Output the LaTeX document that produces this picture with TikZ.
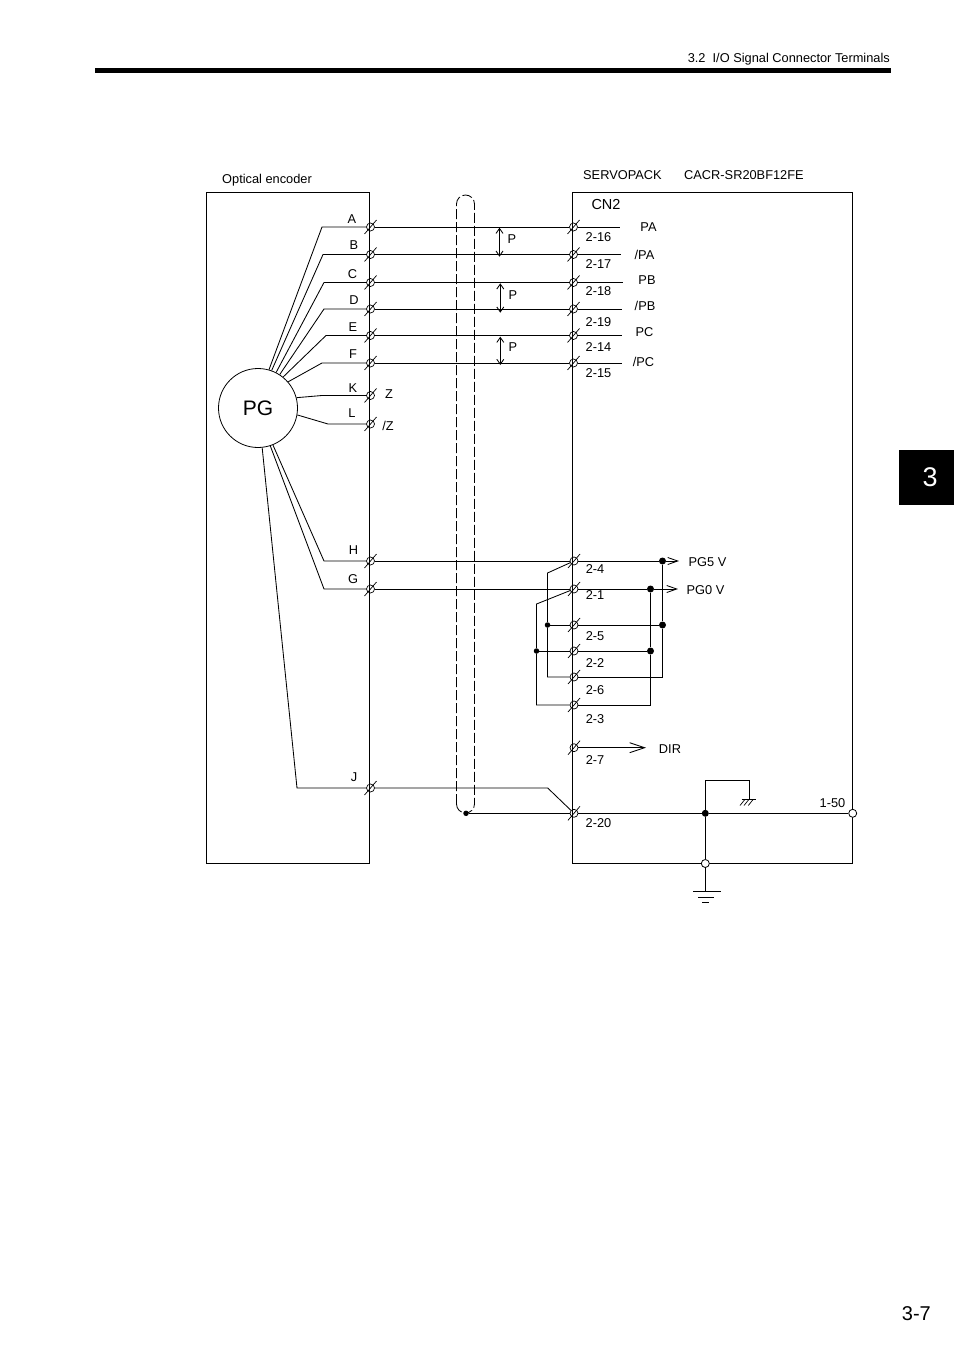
\documentclass[tikz,border=0pt]{standalone}
\usepackage{fontspec}
\setmainfont{Liberation Sans}
\usetikzlibrary{arrows.meta}
\tikzset{
    wire/.style={line width=0.85pt},
    term/.style={circle,draw,line width=0.7pt,inner sep=0pt,minimum size=8pt},
    dot/.style={circle,fill,inner sep=0pt,minimum size=7pt},
    smalldot/.style={circle,fill,inner sep=0pt,minimum size=5.5pt},
    hollow/.style={circle,draw,fill=white,line width=0.8pt,inner sep=0pt,minimum size=8pt},
    lab/.style={font=\fontsize{12.8}{14}\selectfont,inner sep=0pt},
    openarrow/.style={-{Straight Barb[length=10pt,width=7pt]}},
    pairarrow/.style={{Straight Barb[length=5pt,width=7pt]}-{Straight Barb[length=5pt,width=7pt]}},
    shield/.style={line width=0.85pt,dash pattern=on 10pt off 3pt}
}
\newcommand{\terminal}[3]{%
    \node[term] (#1) at (#2,#3) {};
    \draw[line width=0.7pt] (#2-6,#3+7) -- (#2+6,#3-7);
}
\begin{document}
\begin{tikzpicture}[x=1pt,y=-1pt]
    \useasboundingbox (0,0) rectangle (954,1351);
    % page header and tab
    \node[lab,anchor=base east] (title) at (890,62.5) {3.2\ \ I/O Signal Connector Terminals};
    \fill (95,67.7) rectangle (890.5,72.7);
    \fill (899,450) rectangle (954,505);
    \node[white,font=\fontsize{27}{30}\selectfont] (tab) at (930,477) {3};
    \node[inner sep=0pt,font=\fontsize{20}{24}\selectfont,anchor=base east] (pageno) at (931,1320) {3-7};

    % boxes
    \node[lab,anchor=base west] (enc) at (222,183) {Optical encoder};
    \node[lab,anchor=base west] (sp) at (583,179) {SERVOPACK};
    \node[lab,anchor=base west] (model) at (684,179) {CACR-SR20BF12FE};
    \draw[wire] (206.5,192.5) rectangle (369.5,863.5);
    \draw[wire] (572.5,192.5) rectangle (852.5,863.5);
    \node[circle,draw,line width=0.8pt,minimum size=79pt,inner sep=0pt,font=\fontsize{21}{24}\selectfont] (pg) at (258,408) {PG};
    \node[font=\fontsize{14.5}{16}\selectfont,inner sep=0pt] (cn) at (606,204.5) {CN2};

    % shield
    \draw[shield] (456.5,804) -- (456.5,204) arc (180:360:9) -- (474.5,804) arc (0:90:9);
    \draw[shield] (456.5,804) arc (180:90:9);

    % terminals, encoder side
    \terminal{tA}{370.5}{227}
    \terminal{tB}{370.5}{254.5}
    \terminal{tC}{370.5}{282.5}
    \terminal{tD}{370.5}{309}
    \terminal{tE}{370.5}{335.5}
    \terminal{tF}{370.5}{363}
    \terminal{tK}{370.5}{395.5}
    \terminal{tL}{370.5}{424}
    \terminal{tH}{370.5}{561}
    \terminal{tG}{370.5}{589}
    \terminal{tJ}{370.5}{788}
    % terminals, servopack side
    \terminal{sA}{573.5}{227}
    \terminal{sB}{573.5}{254.5}
    \terminal{sC}{573.5}{282.5}
    \terminal{sD}{573.5}{309}
    \terminal{sE}{573.5}{335.5}
    \terminal{sF}{573.5}{363}
    \terminal{s24}{574}{561}
    \terminal{s21}{574}{589}
    \terminal{s25}{574}{625}
    \terminal{s22}{574}{651}
    \terminal{s26}{574}{677}
    \terminal{s23}{574}{705}
    \terminal{s27}{574}{747.7}
    \terminal{s220}{574}{813.3}

    % fan from PG
    \draw[wire] (pg.74) -- (322,227) -- (tA);
    \draw[wire] (pg.70) -- (323,254.5) -- (tB);
    \draw[wire] (pg.63) -- (324,282.5) -- (tC);
    \draw[wire] (pg.57) -- (324,309) -- (tD);
    \draw[wire] (pg.51) -- (326,335.5) -- (tE);
    \draw[wire] (pg.41) -- (322,363) -- (tF);
    \draw[wire] (pg.15) -- (322,395.5) -- (tK);
    \draw[wire] (pg.-10) -- (328,424) -- (tL);
    \draw[wire] (pg.-68) -- (324,561) -- (tH);
    \draw[wire] (pg.-72) -- (324,589) -- (tG);
    \draw[wire] (pg.-84) -- (297,788) -- (tJ);

    % signal lines
    \coordinate (endA) at (620,227);
    \coordinate (endB) at (621,254.5);
    \coordinate (endC) at (623,282.5);
    \coordinate (endD) at (622,309);
    \coordinate (endE) at (622,335.5);
    \coordinate (endF) at (622,363);
    \draw[wire] (tA) -- (sA) (sA) -- (endA);
    \draw[wire] (tB) -- (sB) (sB) -- (endB);
    \draw[wire] (tC) -- (sC) (sC) -- (endC);
    \draw[wire] (tD) -- (sD) (sD) -- (endD);
    \draw[wire] (tE) -- (sE) (sE) -- (endE);
    \draw[wire] (tF) -- (sF) (sF) -- (endF);

    % twisted pair marks
    \coordinate (p1a) at (499.5,227.7);
    \coordinate (p1b) at (499.5,256.7);
    \coordinate (p2a) at (500.3,283.3);
    \coordinate (p2b) at (500.3,312.7);
    \coordinate (p3a) at (500.3,336.7);
    \coordinate (p3b) at (500.3,365);
    \draw[wire,pairarrow] (p1a) -- (p1b);
    \draw[wire,pairarrow] (p2a) -- (p2b);
    \draw[wire,pairarrow] (p3a) -- (p3b);

    % power and return network
    \node[dot] (d5a) at (662.5,561) {};
    \node[dot] (d0a) at (650.5,589) {};
    \node[smalldot] (d5b) at (547.5,625) {};
    \node[dot] (d5c) at (662.5,625) {};
    \node[smalldot] (d0b) at (536.5,651) {};
    \node[dot] (d0c) at (650.5,651) {};
    \coordinate (up5) at (547.5,573);
    \coordinate (up0) at (536.5,604);
    \coordinate (end5) at (679,561);
    \coordinate (end0) at (678,589);
    \draw[wire] (tH) -- (s24) (s24) -- (d5a);
    \draw[wire] (tG) -- (s21) (s21) -- (d0a);
    \draw[wire,openarrow] (d5a) -- (end5);
    \draw[wire,openarrow] (d0a) -- (end0);
    \draw[wire] (s24) -- (up5) -- (d5b) (d5b) |- (s26);
    \draw[wire] (s21) -- (up0) -- (d0b) (d0b) |- (s23);
    \draw[wire] (d5b) -- (s25) (s25) -- (d5c);
    \draw[wire] (d0b) -- (s22) (s22) -- (d0c);
    \draw[wire] (d5a) -- (d5c) (d5c) |- (s26);
    \draw[wire] (d0a) -- (d0c) (d0c) |- (s23);

    % DIR
    \coordinate (enddir) at (646,747.7);
    \draw[wire,-{Straight Barb[length=15pt,width=10pt]}] (s27) -- (enddir);

    % frame ground
    \node[smalldot] (shieldend) at (466,813.3) {};
    \node[dot] (gnd) at (705.3,813.3) {};
    \node[hollow] (p50) at (852.7,813.3) {};
    \node[hollow] (pe) at (705.3,863.5) {};
    \coordinate (jbend) at (547.7,788);
    \coordinate (fgtop) at (705.3,780.3);
    \coordinate (fg) at (749,799.3);
    \coordinate (earth) at (705.3,891);
    \draw[wire] (tJ) -- (jbend) -- (s220);
    \draw[wire] (shieldend) -- (s220) (s220) -- (gnd) -- (p50);
    \draw[wire] (gnd) -- (pe) -- (earth);
    \draw[wire] (gnd) -- (fgtop) -| (fg);
    \draw[wire] (741.7,799.3) -- (755.7,799.3);
    \draw[line width=0.7pt] (740,805.5) -- (745,799.3) (744,805.5) -- (749,799.3) (748.3,805.5) -- (753.3,799.3);
    \draw[wire] (693.3,891) -- (720.7,891);
    \draw[wire] (698.3,897.3) -- (714,897.3);
    \draw[wire] (702.3,902.3) -- (709.3,902.3);

    % left labels
    \node[lab] (lA) at (352,219) {A};
    \node[lab] (lB) at (354,245) {B};
    \node[lab] (lC) at (352.5,274) {C};
    \node[lab] (lD) at (354,300) {D};
    \node[lab] (lE) at (353,327) {E};
    \node[lab] (lF) at (353,354) {F};
    \node[lab] (lK) at (353,388) {K};
    \node[lab] (lL) at (352,413) {L};
    \node[lab] (lH) at (353.5,550) {H};
    \node[lab] (lG) at (353,579) {G};
    \node[lab] (lJ) at (354,777) {J};
    \node[lab] (lZ) at (389,394) {Z};
    \node[lab] (lnZ) at (388,426) {/Z};
    % pair labels
    \node[lab] (p1) at (512,239) {P};
    \node[lab] (p2) at (513,295) {P};
    \node[lab] (p3) at (513,347) {P};
    % servopack labels
    \node[lab] (n216) at (598.5,237) {2-16};
    \node[lab] (n217) at (598.5,264) {2-17};
    \node[lab] (n218) at (598.5,291) {2-18};
    \node[lab] (n219) at (598.5,322) {2-19};
    \node[lab] (n214) at (598.5,347) {2-14};
    \node[lab] (n215) at (598.5,373) {2-15};
    \node[lab] (n24) at (595,569) {2-4};
    \node[lab] (n21) at (595,595) {2-1};
    \node[lab] (n25) at (595,636) {2-5};
    \node[lab] (n22) at (595,663) {2-2};
    \node[lab] (n26) at (595,690) {2-6};
    \node[lab] (n23) at (595,719) {2-3};
    \node[lab] (n27) at (595,760) {2-7};
    \node[lab] (n220) at (598.5,823) {2-20};
    \node[lab] (sPA) at (648.5,227) {PA};
    \node[lab] (snPA) at (644.5,255) {/PA};
    \node[lab] (sPB) at (647,280) {PB};
    \node[lab] (snPB) at (645,306) {/PB};
    \node[lab] (sPC) at (644.5,332) {PC};
    \node[lab] (snPC) at (643.5,362) {/PC};
    \node[lab] (pg5) at (707.5,562) {PG5 V};
    \node[lab] (pg0) at (705.5,590) {PG0 V};
    \node[lab] (dir) at (670,749) {DIR};
    \node[lab] (n150) at (832.5,803) {1-50};
\end{tikzpicture}
\end{document}
